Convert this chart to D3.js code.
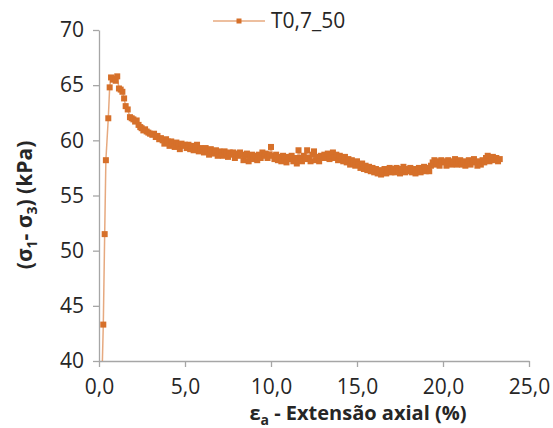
<!DOCTYPE html>
<html>
<head>
<meta charset="utf-8">
<script src="https://cdn.jsdelivr.net/npm/d3@7"></script>
<style>
  body { margin: 0; background: #fff; }
  text { font-family: "Open Sans", sans-serif; fill: #262626; }
</style>
</head>
<body>
<div id="chart"></div>
<script>
// Data
const seriesName = "T0,7_50";
const strain = [0.15, 0.25, 0.33, 0.40, 0.54, 0.62, 0.70, 0.80, 0.87, 0.97, 1.06, 1.16, 1.26, 1.36, 1.46, 1.55, 1.67, 1.80, 1.90, 2.00,
  2.10, 2.19, 2.30, 2.40, 2.48, 2.58, 2.68, 2.77, 2.87, 2.97,
  3.1, 3.2, 3.3, 3.4, 3.5, 3.6, 3.7, 3.8, 3.9, 4.0,
  4.1, 4.2, 4.3, 4.4, 4.5, 4.6, 4.7, 4.8, 4.9, 5.0,
  5.1, 5.2, 5.3, 5.4, 5.5, 5.6, 5.7, 5.8, 5.9, 6.0,
  6.1, 6.2, 6.3, 6.4, 6.5, 6.6, 6.7, 6.8, 6.9, 7.0,
  7.1, 7.2, 7.3, 7.4, 7.5, 7.6, 7.7, 7.8, 7.9, 8.0,
  8.1, 8.2, 8.3, 8.4, 8.5, 8.6, 8.7, 8.8, 8.9, 9.0,
  9.1, 9.2, 9.3, 9.4, 9.5, 9.6, 9.7, 9.8, 9.9, 10.0,
  10.1, 10.2, 10.3, 10.4, 10.5, 10.6, 10.7, 10.8, 10.9, 11.0,
  11.1, 11.2, 11.3, 11.4, 11.5, 11.6, 11.7, 11.8, 11.9, 12.0,
  12.1, 12.2, 12.3, 12.4, 12.5, 12.6, 12.7, 12.8, 12.9, 13.0,
  13.1, 13.2, 13.3, 13.4, 13.5, 13.6, 13.7, 13.8, 13.9, 14.0,
  14.1, 14.2, 14.3, 14.4, 14.5, 14.6, 14.7, 14.8, 14.9, 15.0,
  15.1, 15.2, 15.3, 15.4, 15.5, 15.6, 15.7, 15.8, 15.9, 16.0,
  16.1, 16.2, 16.3, 16.4, 16.5, 16.6, 16.7, 16.8, 16.9, 17.0,
  17.1, 17.2, 17.3, 17.4, 17.5, 17.6, 17.7, 17.8, 17.9, 18.0,
  18.1, 18.2, 18.3, 18.4, 18.5, 18.6, 18.7, 18.8, 18.9, 19.0,
  19.1, 19.2, 19.3, 19.4, 19.5, 19.6, 19.7, 19.8, 19.9, 20.0,
  20.1, 20.2, 20.3, 20.4, 20.5, 20.6, 20.7, 20.8, 20.9, 21.0,
  21.1, 21.2, 21.3, 21.4, 21.5, 21.6, 21.7, 21.8, 21.9, 22.0,
  22.1, 22.2, 22.3, 22.4, 22.5, 22.6, 22.7, 22.8, 22.9, 23.0,
  23.1, 23.2, 23.3];
const stress = [37.0, 43.3, 51.5, 58.2, 62.0, 64.8, 65.7, 65.5, 65.6, 65.4, 65.8, 64.7, 64.6, 64.4, 63.8, 63.1, 62.8, 62.1, 62.0, 61.9,
  61.7, 61.8, 61.4, 61.2, 61.1, 60.9, 61.0, 60.8, 60.7, 60.6,
  60.5, 60.6, 60.3, 60.4, 60.1, 60.2, 60.0, 59.7, 60.1, 59.9,
  59.5, 59.9, 59.7, 59.4, 59.8, 59.6, 59.2, 59.7, 59.5, 59.6,
  59.3, 59.6, 59.2, 59.5, 59.1, 59.4, 59.6, 59.0, 59.3, 59.2,
  58.9, 59.3, 59.1, 58.7, 59.2, 59.0, 58.8, 59.1, 58.6, 59.0,
  58.9, 58.6, 59.0, 58.8, 58.5, 58.9, 58.7, 58.9, 58.4, 58.8,
  58.6, 58.9, 58.7, 58.2, 58.6, 58.8, 58.1, 58.5, 58.7, 58.3,
  58.6, 58.2, 58.7, 58.4, 58.9, 58.6, 58.8, 58.4, 58.7, 59.4,
  58.6, 58.3, 58.7, 58.2, 58.5, 58.1, 58.6, 58.4, 58.0, 58.5,
  58.3, 58.6, 58.1, 58.4, 57.9, 59.1, 58.4, 58.1, 58.6, 58.3,
  59.1, 58.4, 58.1, 58.7, 59.0, 58.2, 58.5, 58.1, 58.6, 58.4,
  58.7, 58.4, 58.8, 58.3, 58.6, 58.9, 58.4, 58.7, 58.2, 58.6,
  58.4, 58.1, 58.5, 58.0, 58.3, 57.8, 58.2, 57.9, 57.7, 58.1,
  57.8, 57.5, 57.9, 57.4, 57.7, 57.3, 57.6, 57.2, 57.5, 57.1,
  57.4, 57.0, 57.3, 56.9, 57.2, 57.4, 57.0, 57.3, 57.5, 57.1,
  57.4, 57.1, 57.5, 57.2, 57.0, 57.4, 57.6, 57.1, 57.4, 57.2,
  57.5, 57.1, 57.4, 57.0, 57.3, 57.5, 57.1, 57.4, 57.6, 57.2,
  57.5, 57.2, 57.7, 58.0, 58.2, 57.8, 58.1, 57.7, 58.2, 58.0,
  58.1, 57.7, 58.2, 58.0, 57.8, 58.1, 58.3, 57.8, 58.0, 58.2,
  57.8, 58.1, 57.7, 58.0, 58.2, 57.8, 58.1, 58.3, 58.0, 57.7,
  58.1, 57.8, 58.2, 58.0, 58.4, 58.6, 58.1, 58.3, 58.5, 58.2,
  58.4, 58.1, 58.3];
const xTicks = [0, 5, 10, 15, 20, 25];
const yTicks = [40, 45, 50, 55, 60, 65, 70];

const width = 553, height = 428;
const margin = {top: 30, right: 24, bottom: 67, left: 99};
const color = "#D6702A";
const axisColor = "#a6a6a6";

const svg = d3.select("#chart").append("svg")
  .attr("width", width).attr("height", height);

const x = d3.scaleLinear().domain([0, 25]).range([margin.left, width - margin.right]);
const y = d3.scaleLinear().domain([40, 70]).range([height - margin.bottom, margin.top]);

const fmt = d => d3.format(".1f")(d).replace(".", ",");

// axes
const xAxis = svg.append("g")
  .attr("transform", `translate(0,${y(40)})`)
  .call(d3.axisBottom(x).tickValues(xTicks).tickFormat(fmt).tickSize(6).tickPadding(12).tickSizeOuter(0));
const yAxis = svg.append("g")
  .attr("transform", `translate(${x(0)},0)`)
  .call(d3.axisLeft(y).tickValues(yTicks).tickSize(6).tickPadding(9).tickSizeOuter(0));
[xAxis, yAxis].forEach(a => {
  a.selectAll("path, line").attr("stroke", axisColor).attr("stroke-width", 1.3);
  a.selectAll("text").attr("font-size", 21).attr("fill", "#262626")
    .attr("font-family", "'Open Sans', sans-serif");
});

// series
const data = strain.map((s, i) => [s, stress[i]]);

svg.append("clipPath").attr("id", "plot")
  .append("rect").attr("x", x(0)).attr("y", y(70) - 5)
  .attr("width", x(25) - x(0)).attr("height", y(40) - y(70) + 5);

const plot = svg.append("g").attr("clip-path", "url(#plot)");

plot.append("path")
  .datum(data)
  .attr("fill", "none")
  .attr("stroke", color)
  .attr("stroke-opacity", 0.6)
  .attr("stroke-width", 1.5)
  .attr("d", d3.line().x(d => x(d[0])).y(d => y(d[1])));

plot.selectAll("rect.pt")
  .data(data.filter(d => d[1] >= 40))
  .enter().append("rect")
  .attr("class", "pt")
  .attr("x", d => x(d[0]) - 3)
  .attr("y", d => y(d[1]) - 3)
  .attr("width", 6).attr("height", 6)
  .attr("fill", color);

// axis titles
svg.append("text")
  .attr("x", 358).attr("y", 420)
  .attr("text-anchor", "middle")
  .attr("font-size", 20).attr("font-weight", "bold")
  .html('ε<tspan font-size="14" dy="5">a</tspan><tspan dy="-5"> - Extensão axial (%)</tspan>');

svg.append("text")
  .attr("transform", "translate(32,205) rotate(-90)")
  .attr("text-anchor", "middle")
  .attr("font-size", 21).attr("font-weight", "bold")
  .html('(σ<tspan font-size="14" dy="5">1</tspan><tspan dy="-5">- σ</tspan><tspan font-size="14" dy="5">3</tspan><tspan dy="-5">) (kPa)</tspan>');

// legend
const lg = svg.append("g");
lg.append("line").attr("x1", 213).attr("x2", 265).attr("y1", 21).attr("y2", 21)
  .attr("stroke", color).attr("stroke-opacity", 0.6).attr("stroke-width", 1.5);
lg.append("rect").attr("x", 236.5).attr("y", 18.5).attr("width", 5).attr("height", 5).attr("fill", color);
lg.append("text").attr("x", 271).attr("y", 28).attr("font-size", 21).text(seriesName);
</script>
</body>
</html>
